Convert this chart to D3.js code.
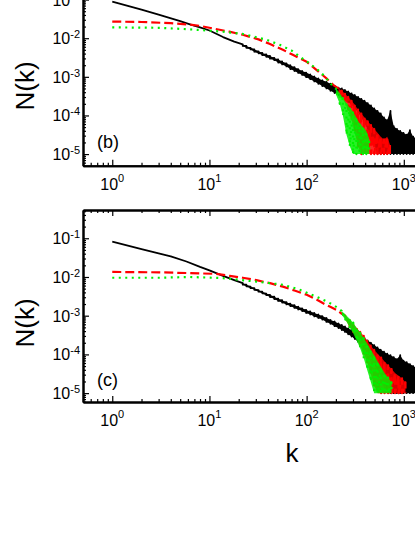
<!doctype html>
<html>
<head>
<meta charset="utf-8">
<script src="https://d3js.org/d3.v7.min.js"></script>
<style>
  body { margin: 0; overflow: hidden; background: #fff; }
  text { font-family: "Liberation Sans", Arial, sans-serif; fill: #000; }
</style>
</head>
<body>
<svg width="415" height="537"></svg>
<script>
// ticks
var xMajor = [1, 10, 100, 1000, 10000],
    xExp = ["0", "1", "2", "3", "4"];
var yMajor = [1e-1, 1e-2, 1e-3, 1e-4, 1e-5],
    yExp = ["-1", "-2", "-3", "-4", "-5"];

// values are log10 N(k)
// line: [k, logN]; band (noisy part): [k, upper logN, lower logN]
var bBlackLine = [[1,-1.05],[2,-1.26],[3,-1.39],[5,-1.56],[6.3,-1.64],[8,-1.72],[10,-1.80],[13.8,-1.97],[18,-2.09]];
var bBlackBand = [[22,-2.16,-2.20],[24,-2.20,-2.25],[26.5,-2.25,-2.29],[29,-2.29,-2.35],[32,-2.34,-2.39],[35,-2.38,-2.44],
  [38.5,-2.42,-2.48],[42,-2.46,-2.53],[46.5,-2.51,-2.57],[51,-2.55,-2.63],[56,-2.60,-2.68],[62,-2.65,-2.73],
  [68,-2.70,-2.80],[75,-2.75,-2.85],[82,-2.80,-2.90],[90,-2.85,-2.95],[99,-2.89,-3.01],[109,-2.94,-3.06],
  [120,-2.99,-3.12],[132,-3.04,-3.18],[145,-3.09,-3.24],[160,-3.13,-3.30],[176,-3.18,-3.36],[194,-3.23,-3.42],
  [213,-3.28,-3.47],[230,-3.30,-3.52],[248,-3.34,-3.58],[268,-3.38,-3.65],[290,-3.43,-3.72],[313,-3.47,-3.82],
  [338,-3.52,-3.92],[365,-3.57,-4.05],[394,-3.62,-4.20],[425,-3.68,-4.35],[459,-3.74,-4.55],[496,-3.82,-4.75],
  [536,-3.88,-5],[579,-3.95,-5],[625,-4.05,-5],[675,-4.12,-5],[729,-3.88,-5],[787,-4.28,-5],[850,-4.35,-5],
  [918,-4.40,-5],[991,-4.45,-5],[1070,-4.50,-5],[1156,-4.38,-5],[1248,-4.55,-5],[1348,-4.60,-5]];
var bRedLine = [[1,-1.57],[2,-1.58],[4,-1.61],[6.3,-1.65],[8,-1.68],[11,-1.75],[16,-1.83],[22,-1.91],[32,-2.03],
  [42,-2.15],[57,-2.30],[72,-2.43],[100,-2.61],[126,-2.82],[160,-3.04],[190,-3.22]];
var bRedBand = [[213,-3.30,-3.42],[230,-3.36,-3.52],[248,-3.44,-3.68],[268,-3.52,-3.85],[290,-3.62,-4.10],
  [313,-3.72,-4.45],[338,-3.85,-4.80],[365,-3.95,-5],[394,-4.05,-5],[425,-4.15,-5],[459,-4.25,-5],[496,-4.35,-5],
  [536,-4.45,-5],[579,-4.55,-5],[625,-4.62,-5],[675,-4.55,-5],[720,-4.75,-5]];
var bGreenLine = [[1,-1.72],[3,-1.73],[6.3,-1.77],[13.8,-1.83],[22,-1.89],[38.6,-2.04],[52.8,-2.17],[70,-2.32],
  [85,-2.48],[107,-2.65],[130,-2.82],[148,-2.95],[170,-3.12],[187,-3.25]];
var bGreenBand = [[200,-3.30,-3.45],[219,-3.42,-3.70],[236,-3.55,-4.00],[257,-3.68,-4.50],[278,-3.80,-4.80],
  [300,-3.90,-5],[325,-4.05,-5],[350,-4.20,-5],[380,-4.30,-5],[411,-4.40,-5],[440,-4.60,-5]];

var cBlackLine = [[1,-1.09],[2,-1.28],[3,-1.39],[4,-1.47],[5.8,-1.60],[8,-1.74],[10,-1.83],[13.8,-1.97],[18,-2.08]];
var cBlackBand = [[22,-2.16,-2.20],[24,-2.20,-2.24],[26.5,-2.25,-2.29],[29,-2.29,-2.33],[32,-2.34,-2.38],[35,-2.38,-2.42],
  [38.5,-2.43,-2.47],[42,-2.46,-2.52],[46.5,-2.51,-2.57],[51,-2.56,-2.62],[56,-2.60,-2.66],[62,-2.65,-2.71],
  [68,-2.69,-2.75],[75,-2.73,-2.80],[82,-2.77,-2.84],[90,-2.81,-2.88],[99,-2.85,-2.93],[109,-2.89,-2.97],
  [120,-2.93,-3.02],[132,-2.97,-3.06],[145,-3.01,-3.10],[160,-3.06,-3.16],[176,-3.11,-3.21],[194,-3.15,-3.27],
  [213,-3.20,-3.32],[230,-3.24,-3.37],[248,-3.28,-3.42],[268,-3.33,-3.48],[290,-3.37,-3.54],[313,-3.42,-3.60],
  [338,-3.47,-3.67],[365,-3.53,-3.75],[394,-3.58,-3.85],[425,-3.64,-3.97],[459,-3.70,-4.10],[496,-3.76,-4.25],
  [536,-3.82,-4.40],[579,-3.88,-4.55],[625,-3.93,-4.75],[675,-3.98,-4.90],[729,-4.02,-5],[787,-4.07,-5],
  [850,-4.12,-5],[918,-4.02,-5],[991,-4.16,-5],[1070,-4.20,-5],[1156,-4.25,-5],[1248,-4.30,-5],[1348,-4.34,-5]];
var cRedLine = [[1,-1.87],[3,-1.88],[6.3,-1.90],[11.8,-1.92],[16.2,-1.97],[22,-2.02],[30.4,-2.08],[42,-2.16],
  [57,-2.25],[75,-2.35],[100,-2.46],[126,-2.58],[148,-2.68],[175,-2.77],[203,-2.85],[230,-2.95]];
var cRedBand = [[250,-3.00,-3.10],[277,-3.12,-3.28],[302,-3.22,-3.42],[328,-3.32,-3.58],[356,-3.42,-3.78],
  [387,-3.52,-3.98],[420,-3.65,-4.20],[456,-3.77,-4.50],[495,-3.88,-4.80],[538,-3.98,-5],[584,-4.08,-5],
  [634,-4.18,-5],[689,-4.28,-5],[748,-4.38,-5],[812,-4.48,-5],[882,-4.55,-5],[958,-4.62,-5],[1040,-4.72,-5]];
var cGreenLine = [[1,-2.02],[3,-2.02],[6.3,-2.00],[13.8,-2.03],[30.4,-2.12],[57,-2.20],[85,-2.33],[126,-2.51],
  [160,-2.63],[187,-2.72],[210,-2.80]];
var cGreenBand = [[230,-2.88,-2.98],[250,-2.97,-3.10],[277,-3.08,-3.30],[302,-3.18,-3.46],[328,-3.32,-3.65],
  [356,-3.44,-3.85],[387,-3.58,-4.10],[420,-3.72,-4.40],[456,-3.88,-4.70],[495,-4.02,-5],[538,-4.18,-5],
  [584,-4.33,-5],[634,-4.48,-5],[689,-4.60,-5],[748,-4.72,-5]];

var svg = d3.select("svg");
var left = 83, right = 501;
var x = d3.scaleLog().domain([0.5, 1e4]).range([left, right]);

var panels = [
  { tag: "(b)", top: -26.3, bottom: 165.7, yDom: [5.0e-6, 0.468], labelY: 86, tagY: 148,
    series: [[bBlackLine, bBlackBand, "black"], [bRedLine, bRedBand, "red"], [bGreenLine, bGreenBand, "green"]] },
  { tag: "(c)", top: 210, bottom: 402, yDom: [5.9e-6, 0.537], labelY: 323, tagY: 386,
    series: [[cBlackLine, cBlackBand, "black"], [cRedLine, cRedBand, "red"], [cGreenLine, cGreenBand, "green"]] }
];

var styles = {
  black: { color: "#000", width: 1.8, dash: null },
  red:   { color: "#ff0000", width: 2.2, dash: "9,4" },
  green: { color: "#00f000", width: 2.2, dash: "2,4.5" }
};

panels.forEach(function(p, pi) {
  var y = d3.scaleLog().domain(p.yDom).range([p.bottom, p.top]);
  var g = svg.append("g");

  g.append("clipPath").attr("id", "clip" + pi)
    .append("rect").attr("x", left).attr("y", p.top).attr("width", right - left).attr("height", p.bottom - p.top);

  var ly = function(v) { return y(Math.pow(10, v)); };
  var line = d3.line()
    .x(function(d) { return x(d[0]); })
    .y(function(d) { return ly(d[1]); });
  var area = d3.area()
    .x(function(d) { return x(d[0]); })
    .y0(function(d) { return ly(d[2]); })
    .y1(function(d) { return ly(d[1]); });

  // each series: smooth part, then the noisy part filled between its upper and lower values,
  // with a sawtooth line on top for the ragged edge
  p.series.forEach(function(s) {
    var st = styles[s[2]];
    var sg = g.append("g").attr("clip-path", "url(#clip" + pi + ")");
    sg.append("path")
      .attr("d", area(s[1]))
      .attr("fill", st.color)
      .attr("fill-opacity", s[2] === "black" ? 1 : 0.85);
    var pts = s[0].concat(s[1].reduce(function(a, d) { return a.concat([[d[0], d[1]], [d[0], d[2]]]); }, []));
    sg.append("path")
      .attr("d", line(pts))
      .attr("fill", "none")
      .attr("stroke", st.color)
      .attr("stroke-width", st.width)
      .attr("stroke-linejoin", "round")
      .attr("stroke-dasharray", st.dash);
  });

  var xMinor = x.ticks().filter(function(v) { return xMajor.indexOf(v) < 0; });
  var yMinor = y.ticks().filter(function(v) { return yMajor.indexOf(v) < 0; });

  function axis(gen, vals, size, tr) {
    var a = g.append("g").attr("transform", tr)
      .call(gen.tickValues(vals).tickSizeInner(size).tickSizeOuter(0).tickFormat(""));
    a.select(".domain").attr("stroke-width", 2);
    a.selectAll(".tick line").attr("stroke-width", 1.2);
    return a;
  }
  axis(d3.axisBottom(x), xMajor, -6, "translate(0," + p.bottom + ")");
  axis(d3.axisBottom(x), xMinor, -3, "translate(0," + p.bottom + ")");
  axis(d3.axisTop(x), xMajor, -6, "translate(0," + p.top + ")");
  axis(d3.axisTop(x), xMinor, -3, "translate(0," + p.top + ")");
  axis(d3.axisLeft(y), yMajor, -6, "translate(" + left + ",0)");
  axis(d3.axisLeft(y), yMinor, -3, "translate(" + left + ",0)");
  axis(d3.axisRight(y), yMajor, -6, "translate(" + right + ",0)");

  // tick labels 10^n
  xMajor.forEach(function(v, i) {
    var t = g.append("text").attr("x", x(v)).attr("y", p.bottom + 24)
      .attr("text-anchor", "middle").attr("font-size", 16);
    t.append("tspan").text("10");
    t.append("tspan").attr("dy", -8).attr("font-size", 11).text(xExp[i]);
  });
  yMajor.forEach(function(v, i) {
    var t = g.append("text").attr("x", 80).attr("y", y(v) + 6)
      .attr("text-anchor", "end").attr("font-size", 16);
    t.append("tspan").text("10");
    t.append("tspan").attr("dy", -6).attr("font-size", 11).text(yExp[i]);
  });

  g.append("text")
    .attr("transform", "translate(34," + p.labelY + ") rotate(-90)")
    .attr("text-anchor", "middle").attr("font-size", 26)
    .text("N(k)");

  g.append("text").attr("x", 97).attr("y", p.tagY).attr("font-size", 18).text(p.tag);
});

svg.append("text").attr("x", 292).attr("y", 462)
  .attr("text-anchor", "middle").attr("font-size", 26).text("k");
</script>
</body>
</html>
